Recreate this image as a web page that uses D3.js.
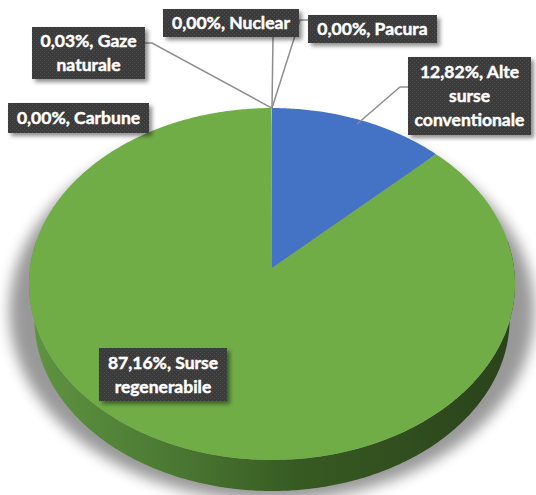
<!DOCTYPE html>
<html>
<head>
<meta charset="utf-8">
<script src="https://cdn.jsdelivr.net/npm/d3@7"></script>
<style>
  body { margin: 0; background: #fff; }
  svg { display: block; }
  .lbl text { font-family: Lato, "DejaVu Sans", sans-serif; font-weight: 700; font-size: 17.5px; fill: #fff; stroke: #fff; stroke-width: 0.45px; }
</style>
</head>
<body>
<div id="container"></div>
<script>
// DATA
const categories = ["Alte surse conventionale", "Surse regenerabile", "Carbune", "Gaze naturale", "Nuclear", "Pacura"];
const shares = [12.82, 87.16, 0.00, 0.03, 0.00, 0.00];
const colors = ["#4472C4", "#70AD47", "#A5A5A5", "#FFC000", "#5B9BD5", "#ED7D31"];

const w = 536, h = 495;

// pie geometry (perspective ellipse)
const CX = 272, CY = 268, A = 242, B = 174.5, K = 0.0909;
const SIDE_S = 0.978;
const SIDE_DY = 491 - CY - B * SIDE_S / (1 - K);

// label boxes: [x0, y0, x1, y1], leader start point, elbow
const layout = {
  "Alte surse conventionale": {box: [408, 57, 531, 135], from: [408, 87], elbow: [400, 87], r: 0.97},
  "Surse regenerabile": {box: [99, 348, 227, 401]},
  "Carbune": {box: [8, 103, 149, 133]},
  "Gaze naturale": {box: [32, 27, 145, 79], from: [145, 43], elbow: [152, 43], r: 1},
  "Nuclear": {box: [163, 9, 299, 37], from: [273, 37], r: 1},
  "Pacura": {box: [308, 15, 437, 43], from: [308, 20], elbow: [300, 20], r: 1}
};

const fmt = d3.formatLocale({decimal: ",", thousands: ".", grouping: [3], currency: ["", ""]}).format(".2f");

function proj(a, r, s = 1, dy = 0) {
  const x = r * Math.sin(a), y = -r * Math.cos(a);
  const ww = 1 - K * y;
  return [CX + A * s * x / ww, CY + B * s * y / ww + dy];
}

function arcPts(a0, a1, r, s, dy) {
  const n = Math.max(2, Math.ceil(Math.abs(a1 - a0) / 0.01));
  return d3.range(n + 1).map(i => proj(a0 + (a1 - a0) * i / n, r, s, dy));
}

const line = d3.line();

const chart = d3.select('#container')
                .append('svg')
                .attr('width', w)
                .attr('height', h);

const defs = chart.append('defs');

defs.append('filter').attr('id', 'blur')
    .attr('x', '-20%').attr('y', '-20%').attr('width', '140%').attr('height', '140%')
    .append('feGaussianBlur').attr('stdDeviation', 7);

defs.append('filter').attr('id', 'boxshadow')
    .attr('x', '-10%').attr('y', '-20%').attr('width', '130%').attr('height', '160%')
    .append('feDropShadow')
    .attr('dx', 3).attr('dy', 3).attr('stdDeviation', 2)
    .attr('flood-color', '#000').attr('flood-opacity', 0.45);

const pat = defs.append('pattern').attr('id', 'dots')
                .attr('width', 4).attr('height', 4)
                .attr('patternUnits', 'userSpaceOnUse');
pat.append('rect').attr('width', 4).attr('height', 4).attr('fill', '#3b3b3b');
pat.append('rect').attr('width', 1).attr('height', 1).attr('fill', '#505050');
pat.append('rect').attr('x', 2).attr('y', 2).attr('width', 1).attr('height', 1).attr('fill', '#505050');

const sideGrad = defs.append('linearGradient').attr('id', 'side')
                     .attr('gradientUnits', 'userSpaceOnUse')
                     .attr('x1', 30).attr('x2', 516).attr('y1', 0).attr('y2', 0);
[[0, '#5f9441'], [0.3, '#4a7832'], [0.55, '#375a22'], [1, '#2a421b']].forEach(s =>
  sideGrad.append('stop').attr('offset', s[0]).attr('stop-color', s[1]));

// PIE
const pie = d3.pie().sort(null).value(d => d)(shares);

// soft shadow under the pie
chart.append('path')
     .attr('d', line(arcPts(0, 2 * Math.PI, 1.08, 1, 24)) + 'Z')
     .attr('fill', '#000')
     .attr('opacity', 0.4)
     .attr('filter', 'url(#blur)');

// front side wall
pie.forEach((d, i) => {
  const a0 = Math.max(d.startAngle, Math.PI * 0.45);
  const a1 = Math.min(d.endAngle, Math.PI * 1.55);
  if (a1 <= a0) return;
  const top = arcPts(a0, a1, 1, 1, 0);
  const bot = arcPts(a1, a0, 1, SIDE_S, SIDE_DY);
  chart.append('path')
       .attr('d', line(top.concat(bot)) + 'Z')
       .attr('fill', i === 1 ? 'url(#side)' : d3.color(colors[i]).darker(1.2));
});

// top faces
pie.forEach((d, i) => {
  if (d.endAngle - d.startAngle <= 0) return;
  const pts = [[CX, CY]].concat(arcPts(d.startAngle, d.endAngle, 1, 1, 0));
  chart.append('path')
       .attr('d', line(pts) + 'Z')
       .attr('fill', colors[i]);
});

// LEADER LINES
pie.forEach((d, i) => {
  const L = layout[categories[i]];
  if (!L.from) return;
  const mid = (d.startAngle + d.endAngle) / 2;
  const end = proj(mid, L.r);
  const pts = [L.from];
  if (L.elbow) pts.push(L.elbow);
  pts.push(end);
  chart.append('path')
       .attr('d', line(pts))
       .attr('fill', 'none')
       .attr('stroke', '#8e8e8e')
       .attr('stroke-width', 1.5);
});

// LABELS
const lh = 23.8;
pie.forEach((d, i) => {
  const L = layout[categories[i]];
  const [x0, y0, x1, y1] = L.box;
  const g = chart.append('g').attr('class', 'lbl');
  g.append('rect')
   .attr('x', x0).attr('y', y0)
   .attr('width', x1 - x0).attr('height', y1 - y0)
   .attr('fill', 'url(#dots)')
   .attr('filter', 'url(#boxshadow)');

  // word wrap to the box width
  const words = (fmt(shares[i]) + "%, " + categories[i]).split(' ');
  const probe = g.append('text');
  const lines = [];
  let cur = '';
  words.forEach(wd => {
    const t = cur ? cur + ' ' + wd : wd;
    probe.text(t);
    if (cur && probe.node().getComputedTextLength() > x1 - x0 - 4) {
      lines.push(cur);
      cur = wd;
    } else {
      cur = t;
    }
  });
  lines.push(cur);
  probe.remove();

  const cy = (y0 + y1) / 2;
  lines.forEach((t, j) => {
    g.append('text')
     .attr('x', (x0 + x1) / 2)
     .attr('y', cy - (lines.length - 1) * lh / 2 + j * lh + 6.2)
     .attr('text-anchor', 'middle')
     .text(t);
  });
});
</script>
</body>
</html>
